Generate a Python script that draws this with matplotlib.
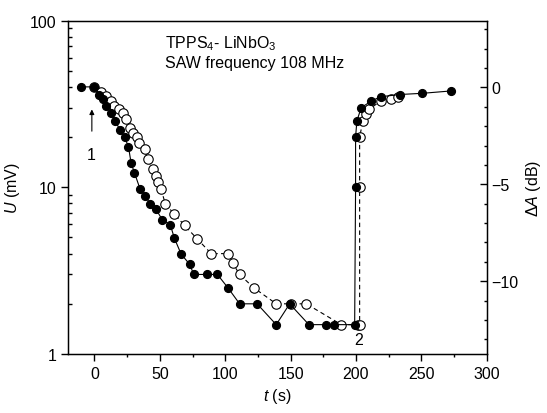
import matplotlib
matplotlib.use("Agg")
import matplotlib.pyplot as plt
from matplotlib.ticker import MultipleLocator, LogLocator, NullFormatter

plt.rcParams["font.family"] = ["Liberation Sans", "DejaVu Sans"]
plt.rcParams["mathtext.fontset"] = "custom"
plt.rcParams["mathtext.rm"] = "Liberation Sans"
plt.rcParams["mathtext.it"] = "Liberation Sans:italic"

# filled circles (solid line)
t_filled = [-10, 0, 3.8, 6.4, 9, 12.8, 16, 19.5, 23, 26, 28, 30.6, 35, 39, 42.6,
            46.7, 51.8, 58, 61.2, 66.3, 72.7, 76, 86, 94, 102, 111, 124.4, 139,
            149.3, 164, 176.8, 183, 199, 199.7, 199.7, 200.7, 204, 211.7, 218.8,
            233.4, 250.8, 272.4]
u_filled = [40, 40, 36, 33.7, 30.7, 28, 25, 22, 20, 17.5, 14, 12.2, 9.7, 8.9, 7.9,
            7.45, 6.4, 5.95, 4.93, 3.97, 3.46, 3, 3, 3, 2.5, 2, 2, 1.5,
            2, 1.5, 1.5, 1.5, 1.5, 10, 20, 25, 30, 32.9, 34.9,
            36, 36.6, 37.8]

# open circles (dashed line)
t_open = [0, 5.1, 9, 12.8, 15.3, 18.6, 21.7, 24.3, 26.8, 29.8, 32.4, 34.4, 38.3,
          40.8, 44.6, 47.2, 48.4, 51, 54.3, 61.2, 68.9, 78.6, 89.3, 102, 105.8,
          111, 121.7, 139, 150.5, 162, 188.8, 201.5, 202.8, 202.8, 202.8, 205.3,
          207.9, 209.9, 218.9, 227, 232.1]
u_open = [40, 37.2, 35.2, 32.9, 30.7, 29.6, 28, 25.5, 22.7, 21.3, 19.9, 18.5, 16.9,
          14.7, 12.8, 11.7, 10.7, 9.7, 7.9, 6.9, 5.9, 4.9, 4, 4, 3.5,
          3, 2.5, 2, 2, 2, 1.5, 1.5, 1.5, 10, 20, 25,
          27.4, 29.3, 32.9, 33.7, 34.9]

fig = plt.figure(figsize=(5.47, 4.14), dpi=100)
ax = fig.add_axes([0.1249, 0.1425, 0.7649, 0.8055])

ax.plot(t_open, u_open, color="black", lw=0.8, ls=(0, (4, 3)), marker="o",
        ms=6.8, mfc="white", mec="black", mew=0.8, zorder=2)
ax.plot(t_filled, u_filled, color="black", lw=0.8, ls="-", marker="o",
        ms=5.6, mfc="black", mec="black", zorder=3)

ax.set_yscale("log")
ax.set_xlim(-20, 300)
ax.set_ylim(1, 100)
ax.xaxis.set_major_locator(MultipleLocator(50))
ax.xaxis.set_minor_locator(MultipleLocator(25))
ax.yaxis.set_minor_locator(LogLocator(base=10, subs=range(2, 10)))
ax.yaxis.set_minor_formatter(NullFormatter())
ax.set_yticks([1, 10, 100])
ax.set_yticklabels(["1", "10", "100"])

ax.tick_params(axis="x", which="major", direction="out", length=5, width=1,
               labelsize=11.5, top=False)
ax.tick_params(axis="x", which="minor", direction="out", length=2.5, width=1, top=False)
ax.tick_params(axis="y", which="major", direction="out", length=5, width=1,
               labelsize=11.5)
ax.tick_params(axis="y", which="minor", direction="in", length=3, width=1)
for s in ax.spines.values():
    s.set_linewidth(1)

ax.set_xlabel("$t$ (s)", fontsize=11.5)
ax.set_ylabel("$U$ (mV)", fontsize=11.5, labelpad=6)

ax2 = ax.twinx()
ax2.set_ylim(-13.76, 3.45)
ax2.yaxis.set_major_locator(MultipleLocator(5))
ax2.yaxis.set_minor_locator(MultipleLocator(1))
ax2.tick_params(axis="y", which="major", direction="in", length=5, width=1,
                labelsize=11.5)
ax2.tick_params(axis="y", which="minor", direction="in", length=2.5, width=1)
ax2.set_ylabel("Δ$A$ (dB)", fontsize=11.5)

ax.annotate("", xy=(-2, 29.3), xytext=(-2, 21.7),
            arrowprops=dict(arrowstyle="-|>", color="black", lw=0.8,
                            mutation_scale=7, shrinkA=0, shrinkB=0))
ax.text(-2.5, 15.8, "1", fontsize=11.5, ha="center", va="center")
ax.text(202, 1.22, "2", fontsize=11.5, ha="center", va="center")

ax.text(54, 74, "TPPS$_4$- LiNbO$_3$", fontsize=11.5, ha="left", va="center")
ax.text(54, 56, "SAW frequency 108 MHz", fontsize=11.5, ha="left", va="center")

fig.savefig("out.png", dpi=100)
